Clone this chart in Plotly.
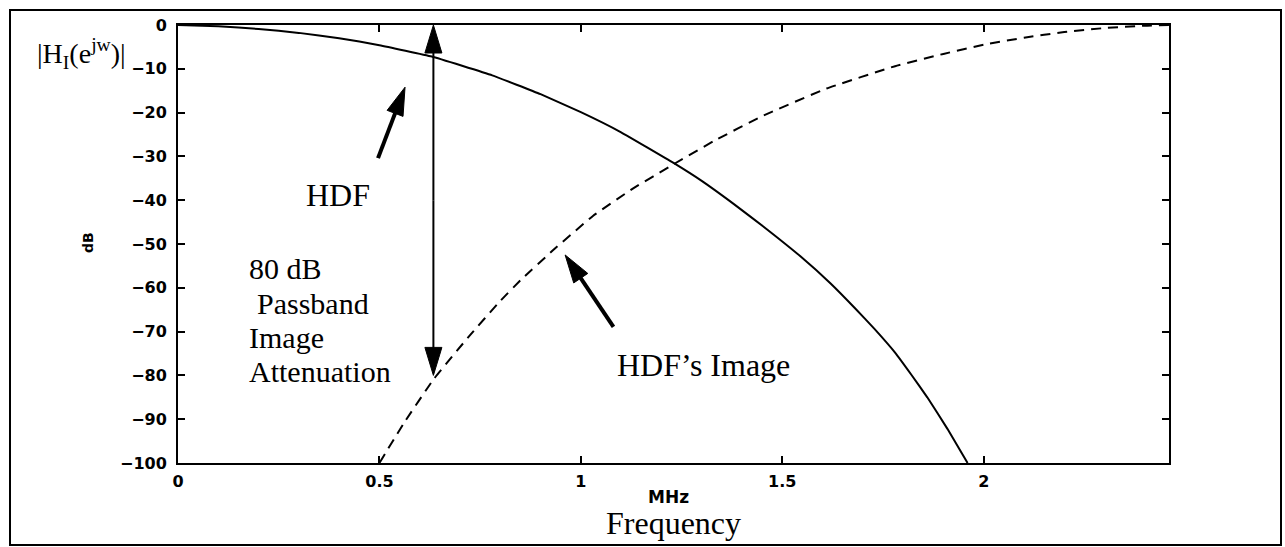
import math
import plotly.graph_objects as go

# ---------------- data ----------------
hdf_mhz = [0.0, 0.1, 0.2, 0.3, 0.4, 0.5, 0.63, 0.78, 0.9, 1.0, 1.1, 1.23, 1.3, 1.38, 1.46,
           1.545, 1.62, 1.68, 1.73, 1.78, 1.82, 1.86, 1.91, 1.96]
hdf_db = [0.0, -0.3, -0.9, -1.8, -3.0, -4.6, -7.2, -11.5, -15.8, -19.9, -24.5, -31.5, -35.6, -40.9, -46.5,
          -52.8, -59.0, -64.6, -69.5, -74.8, -79.8, -85.0, -92.2, -100.0]

image_mhz = [0.5, 0.56, 0.635, 0.725, 0.8, 0.85, 0.93, 1.03, 1.13, 1.23, 1.33, 1.45, 1.61, 1.78,
             1.9, 2.0, 2.1, 2.2, 2.3, 2.4, 2.46]
image_db = [-100.0, -91.0, -80.8, -70.8, -63.0, -58.3, -51.5, -43.6, -37.3, -31.8, -26.5, -20.8, -14.5, -9.4,
            -6.6, -4.5, -2.9, -1.6, -0.7, -0.15, 0.0]

x_tickvals = [0, 0.5, 1, 1.5, 2]
x_ticktext = ["0", "0.5", "1", "1.5", "2"]
y_tickvals = [0, -10, -20, -30, -40, -50, -60, -70, -80, -90, -100]
y_ticktext = ["0", "\u221210", "\u221220", "\u221230", "\u221240", "\u221250",
              "\u221260", "\u221270", "\u221280", "\u221290", "\u2212100"]

# annotation arrows
attenuation_arrow = (0.634, -40.0, 0.634, 0.0, 0.634, -80.0)   # shaft centre, both tips
hdf_arrow = (0.4965, -30.4, 0.5636, -14.2)                    # tail, tip
image_arrow = (1.081, -68.9, 0.961, -52.5)                    # tail, tip

# ---------------- layout geometry ----------------
W, H = 1285, 547
ML, MR, MT, MB = 178, 116, 25, 84
XR = [0, 2.46]
YR = [-100, 0]
pw, ph = W - ML - MR, H - MT - MB
ppx = pw / (XR[1] - XR[0])   # pixels per MHz
ppy = ph / (YR[1] - YR[0])   # pixels per dB

SERIF = "Liberation Serif, Times New Roman, serif"
SANS = "DejaVu Sans, Arial, sans-serif"

fig = go.Figure()
fig.add_trace(go.Scatter(x=hdf_mhz, y=hdf_db, mode="lines",
                         line=dict(color="black", width=2, shape="spline", smoothing=0.3),
                         hoverinfo="skip", showlegend=False))
fig.add_trace(go.Scatter(x=image_mhz, y=image_db, mode="lines",
                         line=dict(color="black", width=2, dash="10px,7px", shape="spline", smoothing=0.3),
                         hoverinfo="skip", showlegend=False))

shapes = []
HEAD_L, HEAD_W = 28, 8.5


def arrow(tx, ty, hx, hy, width):
    """shaft from tail (tx,ty) to tip (hx,hy), filled triangular head at tip"""
    dx = (hx - tx) * ppx
    dy = (hy - ty) * ppy          # pixel offsets, y up
    n = math.hypot(dx, dy)
    ux, uy = dx / n, dy / n
    nx, ny = -uy, ux
    bx, by = -HEAD_L * ux, -HEAD_L * uy
    shapes.append(dict(type="path", xref="x", yref="y", xsizemode="pixel", ysizemode="pixel",
                       xanchor=hx, yanchor=hy,
                       path=f"M{-dx:.2f},{-dy:.2f} L{bx * 0.6:.2f},{by * 0.6:.2f}",
                       line=dict(color="black", width=width)))
    shapes.append(dict(type="path", xref="x", yref="y", xsizemode="pixel", ysizemode="pixel",
                       xanchor=hx, yanchor=hy,
                       path=(f"M0,0 L{bx + HEAD_W * nx:.2f},{by + HEAD_W * ny:.2f} "
                             f"L{bx - HEAD_W * nx:.2f},{by - HEAD_W * ny:.2f} Z"),
                       fillcolor="black", line=dict(color="black", width=1)))


cx, cy, t1x, t1y, t2x, t2y = attenuation_arrow
arrow(cx, cy, t1x, t1y, 2)
arrow(cx, cy, t2x, t2y, 2)
arrow(*hdf_arrow, 4)
arrow(*image_arrow, 4)

# outer frame around whole figure
shapes.append(dict(type="rect", xref="paper", yref="paper",
                   x0=(10 - ML) / pw, x1=(1281 - ML) / pw,
                   y0=(H - MB - 545) / ph, y1=(H - MB - 10) / ph,
                   line=dict(color="black", width=2)))

ann = []


def txt(x, y, s, size, xanchor="left", font=SERIF, ref="data", angle=0):
    d = dict(x=x, y=y, text=s, showarrow=False, xanchor=xanchor, yanchor="middle",
             font=dict(family=font, size=size, color="black"), textangle=angle)
    if ref == "paper":
        d.update(xref="paper", yref="paper")
    ann.append(d)


txt(0.397, -38.8, "HDF", 32, xanchor="center")
txt(0.171, -55.7, "80 dB", 30)
txt(0.191, -63.5, "Passband", 30)
txt(0.171, -71.3, "Image", 30)
txt(0.171, -79.1, "Attenuation", 30)
txt(1.085, -77.6, "HDF\u2019s Image", 32)

txt((35 - ML) / pw, (H - MB - 53) / ph, "|H<sub>I</sub>(e<sup>jw</sup>)|", 28, ref="paper")
txt((88 - ML) / pw, (H - MB - 243) / ph, "<b>dB</b>", 14, xanchor="center", font=SANS, ref="paper", angle=-90)
txt((668 - ML) / pw, (H - MB - 497) / ph, "<b>MHz</b>", 17, xanchor="center", font=SANS, ref="paper")
txt(0.5, (H - MB - 523) / ph, "Frequency", 32, xanchor="center", ref="paper")

axis_common = dict(showline=True, linecolor="black", linewidth=2, mirror="ticks",
                   ticks="inside", ticklen=7, tickwidth=1.5, tickcolor="black",
                   showgrid=False, zeroline=False,
                   tickfont=dict(family=SANS, size=16, color="black", weight="bold"))

fig.update_layout(
    width=W, height=H,
    margin=dict(l=ML, r=MR, t=MT, b=MB, pad=0),
    paper_bgcolor="white", plot_bgcolor="white",
    xaxis=dict(range=XR, tickvals=x_tickvals, ticktext=x_ticktext, ticklabelstandoff=3, **axis_common),
    yaxis=dict(range=YR, tickvals=y_tickvals, ticktext=y_ticktext, ticklabelstandoff=6, **axis_common),
    shapes=shapes, annotations=ann, showlegend=False,
)

fig.write_html("out.html", config={"displayModeBar": False})
